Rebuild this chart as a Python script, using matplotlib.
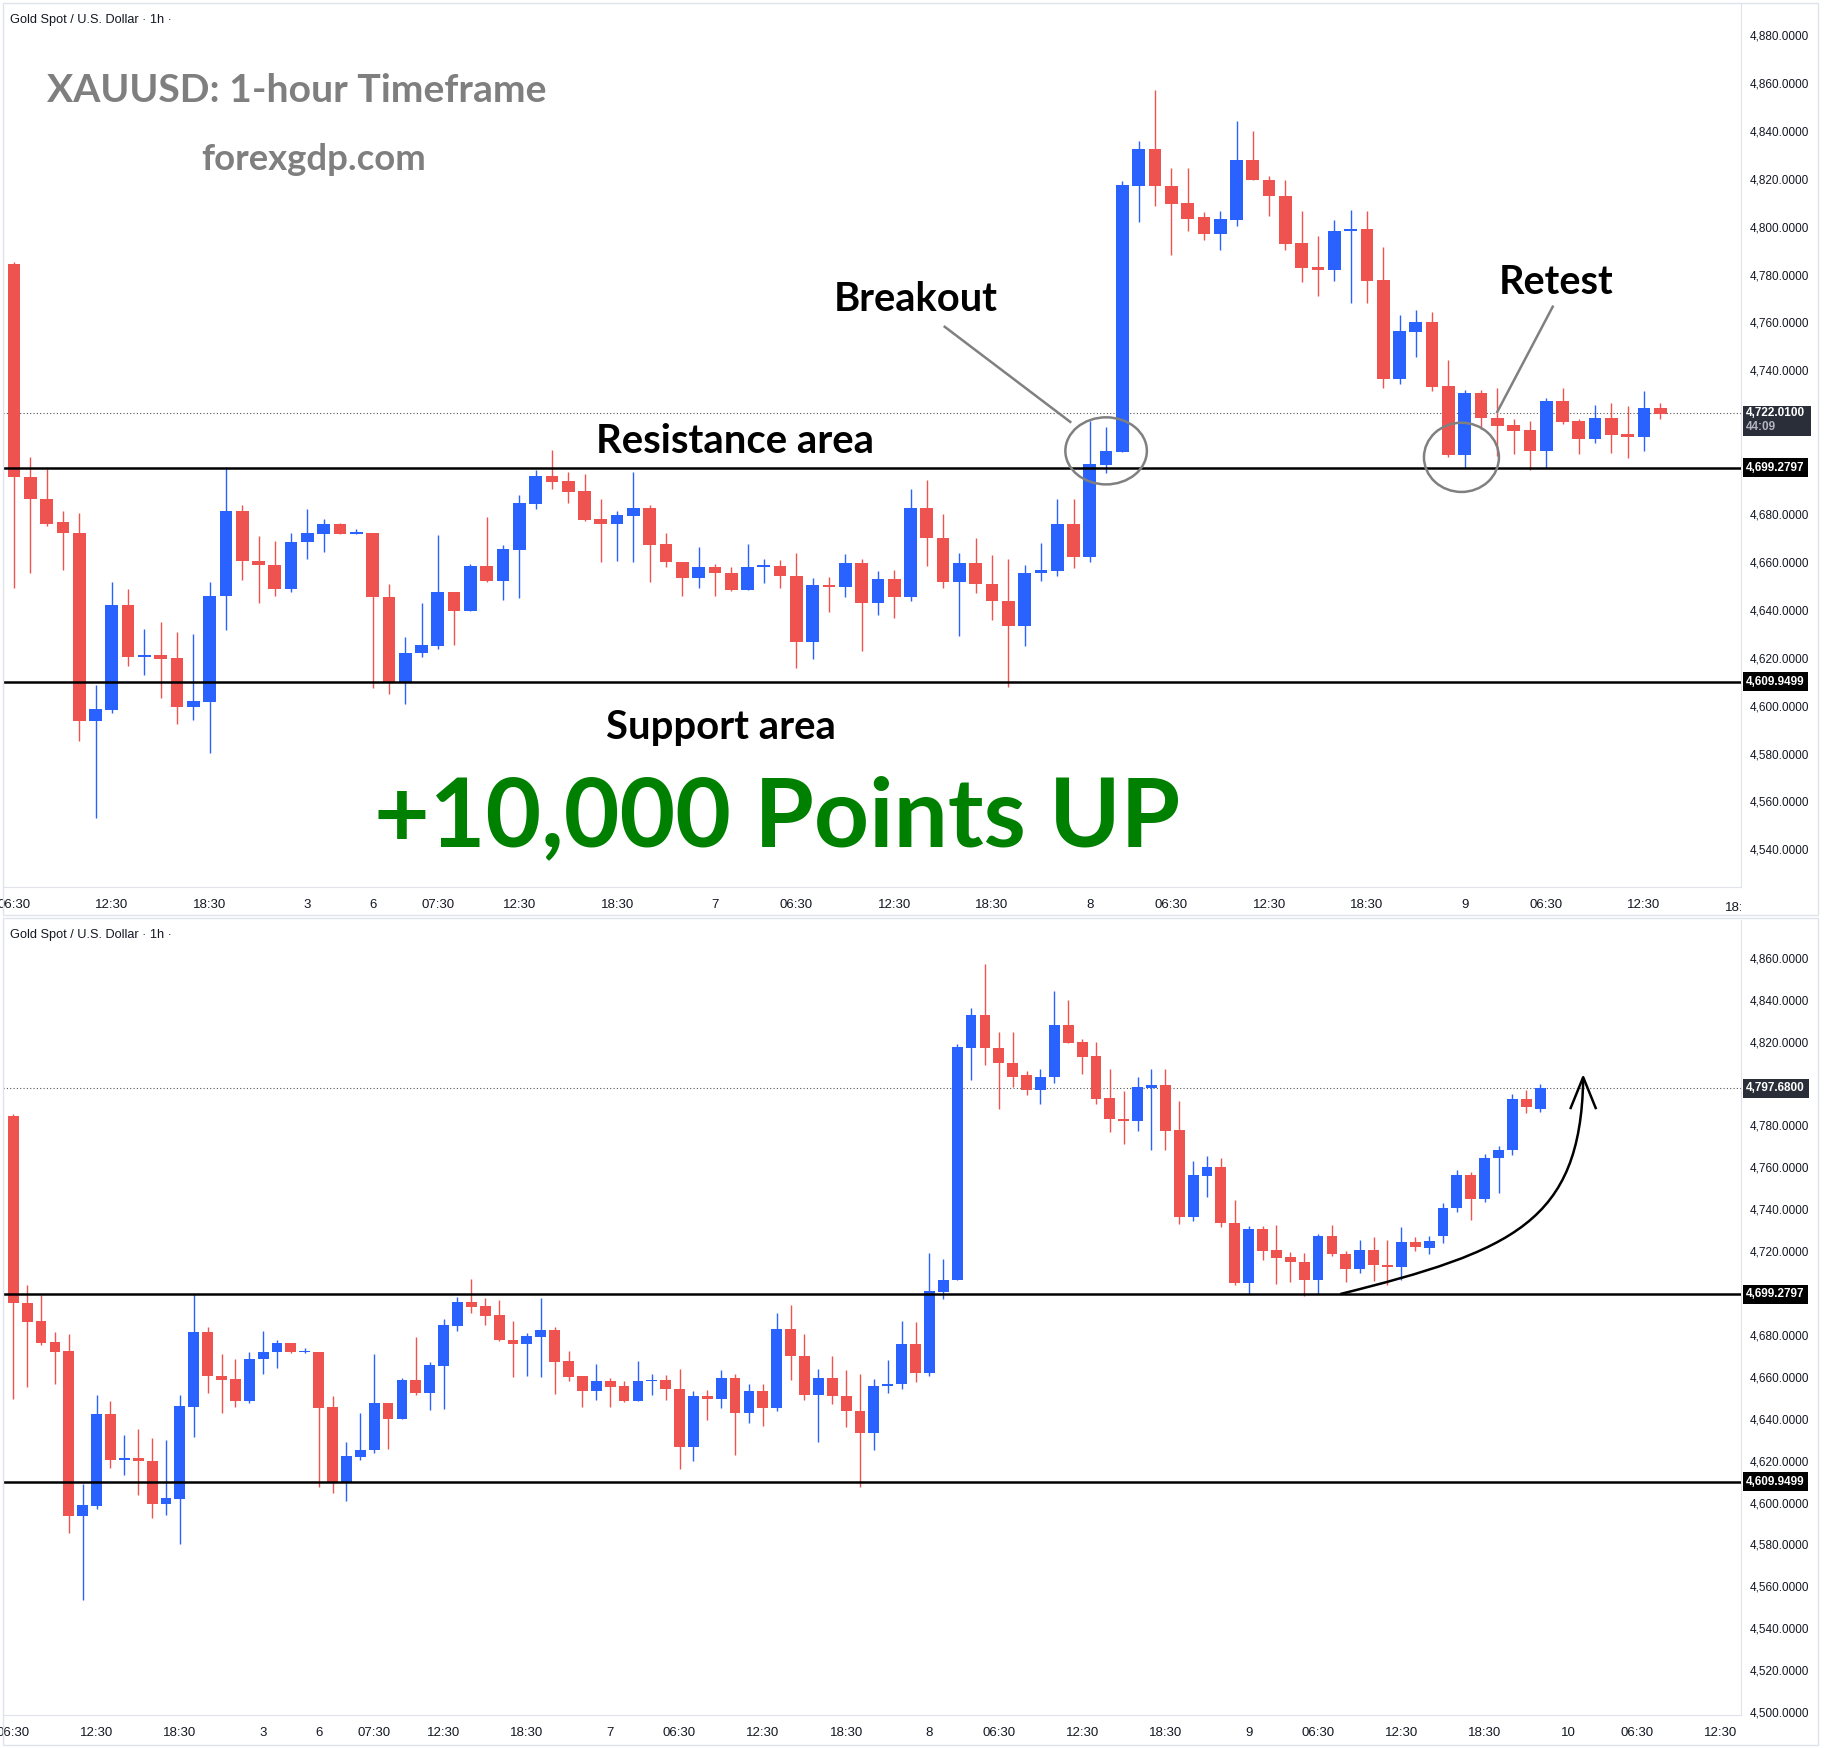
import numpy as np
import matplotlib.pyplot as plt
from matplotlib.patches import Ellipse, Rectangle, PathPatch
from matplotlib.path import Path
from matplotlib.transforms import Bbox, TransformedBbox

# ---- OHLC data (1h candles, XAUUSD) ----
opens = [4784.3, 4695.3, 4686.4, 4676.5, 4672.3, 4593.7, 4598.2, 4642.2, 4620.5, 4621.3,
         4619.9, 4599.5, 4601.6, 4645.7, 4681.2, 4660.6, 4658.9, 4648.6, 4668.5, 4671.7,
         4676.0, 4671.7, 4671.9, 4645.5, 4609.5, 4621.8, 4625.0, 4647.6, 4639.7, 4658.5,
         4652.2, 4665.2, 4684.1, 4695.8, 4693.7, 4689.5, 4677.8, 4675.8, 4679.2, 4682.5,
         4667.6, 4660.2, 4653.2, 4658.1, 4655.6, 4648.5, 4657.9, 4658.5, 4654.3, 4626.4,
         4650.6, 4649.5, 4659.6, 4642.7, 4653.0, 4645.3, 4682.7, 4670.1, 4651.5, 4659.6,
         4650.8, 4643.9, 4633.1, 4655.4, 4656.4, 4675.7, 4662.0, 4700.4, 4706.0, 4817.1,
         4832.6, 4817.1, 4809.9, 4803.9, 4797.0, 4802.9, 4827.7, 4819.6, 4813.0, 4793.1,
         4783.1, 4782.0, 4798.0, 4799.1, 4777.8, 4736.2, 4756.0, 4760.2, 4733.4, 4704.6,
         4730.4, 4720.3, 4717.1, 4715.0, 4706.4, 4727.2, 4718.8, 4711.3, 4720.3, 4713.4,
         4712.3, 4724.1, 4721.7, 4727.2, 4740.6, 4756.1, 4745.0, 4764.4, 4768.3, 4792.8,
         4787.8]
highs = [4785.4, 4703.8, 4699.0, 4681.5, 4680.4, 4608.7, 4651.5, 4648.6, 4632.2, 4635.0,
         4630.6, 4630.0, 4651.5, 4699.6, 4684.0, 4670.7, 4668.6, 4671.9, 4682.0, 4677.8,
         4676.3, 4673.6, 4672.0, 4651.0, 4628.7, 4642.7, 4671.1, 4647.6, 4659.2, 4678.8,
         4666.9, 4687.8, 4698.3, 4706.7, 4697.6, 4696.6, 4686.4, 4681.1, 4697.6, 4683.6,
         4672.3, 4660.2, 4666.1, 4659.2, 4657.8, 4667.6, 4661.4, 4660.9, 4663.8, 4653.4,
         4653.9, 4663.4, 4661.3, 4656.4, 4656.7, 4690.6, 4694.1, 4680.2, 4663.8, 4670.1,
         4663.1, 4661.3, 4658.9, 4668.1, 4686.4, 4686.2, 4719.0, 4716.4, 4818.9, 4835.9,
         4856.9, 4824.5, 4824.5, 4806.0, 4806.7, 4844.0, 4839.8, 4821.3, 4819.6, 4806.7,
         4796.2, 4802.9, 4807.1, 4806.7, 4791.7, 4763.1, 4765.2, 4764.4, 4744.3, 4731.8,
         4732.0, 4732.5, 4719.5, 4718.9, 4728.3, 4732.5, 4719.9, 4725.5, 4726.5, 4725.1,
         4731.4, 4726.5, 4727.0, 4743.0, 4758.5, 4757.5, 4766.5, 4770.0, 4795.0, 4796.7,
         4799.5]
lows = [4649.2, 4655.3, 4675.2, 4656.8, 4585.4, 4553.3, 4597.1, 4616.4, 4613.0, 4603.4,
        4592.5, 4594.1, 4580.3, 4631.4, 4652.3, 4642.7, 4645.7, 4647.3, 4661.1, 4664.0,
        4671.5, 4671.5, 4607.5, 4604.7, 4600.6, 4620.4, 4623.6, 4625.4, 4639.7, 4651.5,
        4644.3, 4644.8, 4682.0, 4690.3, 4684.6, 4677.0, 4659.9, 4660.3, 4659.9, 4651.8,
        4657.8, 4645.7, 4649.0, 4645.7, 4648.0, 4648.5, 4651.1, 4649.0, 4615.9, 4619.7,
        4639.3, 4645.3, 4622.9, 4637.9, 4636.5, 4643.9, 4658.5, 4649.0, 4628.9, 4646.9,
        4635.9, 4607.6, 4625.0, 4652.2, 4654.3, 4657.4, 4660.2, 4697.2, 4706.0, 4801.8,
        4808.7, 4788.0, 4798.3, 4794.5, 4790.3, 4800.4, 4819.3, 4804.6, 4790.3, 4776.7,
        4771.1, 4777.4, 4768.3, 4768.3, 4732.7, 4734.3, 4745.7, 4731.5, 4703.9, 4699.3,
        4715.7, 4704.2, 4705.3, 4698.6, 4699.3, 4717.8, 4705.3, 4709.5, 4705.7, 4703.6,
        4706.3, 4719.9, 4718.5, 4724.0, 4738.5, 4735.0, 4743.5, 4747.8, 4766.0, 4786.0,
        4786.5]
closes = [4695.3, 4686.3, 4676.0, 4671.9, 4593.7, 4598.6, 4642.2, 4620.5, 4621.3, 4619.7,
          4599.5, 4602.1, 4645.9, 4681.2, 4660.3, 4658.7, 4648.6, 4668.5, 4671.9, 4676.0,
          4671.7, 4671.9, 4645.2, 4609.5, 4622.0, 4625.3, 4647.6, 4639.7, 4658.5, 4652.2,
          4665.6, 4684.6, 4695.8, 4693.4, 4689.2, 4677.4, 4675.8, 4679.5, 4682.5, 4667.3,
          4659.9, 4653.2, 4658.1, 4655.3, 4648.5, 4658.1, 4658.5, 4654.1, 4626.4, 4650.6,
          4649.5, 4659.6, 4642.7, 4653.0, 4645.3, 4682.7, 4670.1, 4651.5, 4659.6, 4650.8,
          4643.6, 4633.1, 4655.4, 4656.7, 4675.7, 4662.0, 4700.8, 4706.2, 4817.5, 4832.6,
          4816.8, 4809.6, 4803.3, 4797.0, 4803.3, 4827.7, 4819.3, 4812.7, 4792.8, 4782.9,
          4782.0, 4798.3, 4799.2, 4777.4, 4736.2, 4756.5, 4760.2, 4733.2, 4704.6, 4730.4,
          4720.2, 4716.8, 4714.8, 4706.4, 4727.2, 4718.5, 4711.3, 4720.3, 4713.2, 4712.3,
          4724.1, 4722.0, 4725.0, 4740.6, 4756.1, 4745.0, 4764.4, 4768.3, 4792.8, 4788.9,
          4797.68]

top_count = 102          # candles shown in the upper chart
resistance = 4699.2797
support = 4609.9499
top_last = 4722.01
bot_last = 4797.68

top_xticks = [0, 6, 12, 18, 22, 26, 31, 37, 43, 48, 54, 60, 66, 71, 77, 83, 89, 94, 100]
top_xlabels = ['06:30', '12:30', '18:30', '3', '6', '07:30', '12:30', '18:30', '7', '06:30',
               '12:30', '18:30', '8', '06:30', '12:30', '18:30', '9', '06:30', '12:30']
bot_xticks = [0, 6, 12, 18, 22, 26, 31, 37, 43, 48, 54, 60, 66, 71, 77, 83, 89, 94, 100,
              106, 112, 117, 123]
bot_xlabels = ['06:30', '12:30', '18:30', '3', '6', '07:30', '12:30', '18:30', '7', '06:30',
               '12:30', '18:30', '8', '06:30', '12:30', '18:30', '9', '06:30', '12:30',
               '18:30', '10', '06:30', '12:30']
top_yticks = [4540, 4560, 4580, 4600, 4620, 4640, 4660, 4680, 4740, 4760, 4780, 4800,
              4820, 4840, 4860, 4880]
bot_yticks = [4500, 4520, 4540, 4560, 4580, 4600, 4620, 4640, 4660, 4680, 4720, 4740,
              4760, 4780, 4800, 4820, 4840, 4860]

RED = '#ef5350'
BLUE = '#2962ff'
LINE_GRAY = '#e0e3eb'
TXT = '#131722'
TAG_DARK = '#2a2e39'
ANN = ['Lato', 'DejaVu Sans']
AXF = ['Liberation Sans', 'DejaVu Sans']
AXF_X = ['Liberation Sans Narrow', 'Liberation Sans', 'DejaVu Sans']

W, H = 1825, 1748
fig = plt.figure(figsize=(W / 100, H / 100), dpi=100)


def add_ax(x0, y0, x1, y1):
    return fig.add_axes([x0 / W, 1 - y1 / H, (x1 - x0) / W, (y1 - y0) / H])


def draw_candles(ax, n):
    o = np.array(opens[:n])
    h = np.array(highs[:n])
    l = np.array(lows[:n])
    c = np.array(closes[:n])
    idx = np.arange(n)
    colors = np.where(c >= o, BLUE, RED)
    ax.vlines(idx, l, h, colors=colors, lw=1.0, zorder=2)
    body = np.maximum(np.abs(c - o), 0.8)
    ax.bar(idx, body, bottom=np.minimum(o, c), width=0.78, color=colors, lw=0, zorder=3)


def style_axis(ax, xlim, ylim, xticks, xlabels, yticks):
    ax.set_xlim(*xlim)
    ax.set_ylim(*ylim)
    ax.yaxis.tick_right()
    ax.set_yticks(yticks)
    ax.set_yticklabels([f'{v:,.4f}' for v in yticks], fontsize=8.5, color=TXT, family=AXF)
    ax.set_xticks(xticks)
    ax.set_xticklabels(xlabels, fontsize=9.5, color=TXT, family=AXF_X)
    ax.tick_params(axis='y', length=0, pad=6)
    ax.tick_params(axis='x', length=0, pad=9)
    ax.spines['top'].set_visible(False)
    ax.spines['left'].set_visible(False)
    ax.spines['right'].set_color(LINE_GRAY)
    ax.spines['bottom'].set_color(LINE_GRAY)
    ax.axhline(resistance, color='black', lw=1.8, zorder=4)
    ax.axhline(support, color='black', lw=1.8, zorder=4)


def price_tag(ax, price, label, fc):
    ax.text(1.003, price, label, transform=ax.get_yaxis_transform(), ha='left', va='center',
            color='white', fontsize=8.5, fontweight='bold', family=AXF, clip_on=False,
            bbox=dict(boxstyle='square,pad=0.3', fc=fc, ec='none'), zorder=10)


# ---------------- upper chart ----------------
ax1 = add_ax(3, 3, 1741, 887)
draw_candles(ax1, top_count)
style_axis(ax1, (-0.675, 105.95), (4524.3, 4893.4), top_xticks, top_xlabels, top_yticks)
ax1.axhline(top_last, color='#555555', lw=0.8, ls=(0, (1, 2)), zorder=1)

# cut-off "18:30" label at the right edge
t = ax1.text(106, -0.017, '18:30', transform=ax1.get_xaxis_transform(), ha='center', va='top',
             fontsize=9.5, color=TXT, family=AXF_X, clip_on=True)
t.set_clip_box(TransformedBbox(Bbox([[0, 0], [1741 / W, 1]]), fig.transFigure))

price_tag(ax1, resistance, '4,699.2797', 'black')
price_tag(ax1, support, '4,609.9499', 'black')
ax1.add_patch(Rectangle((1.001, top_last - 9.2), 0.039, 12.5, transform=ax1.get_yaxis_transform(),
                        fc=TAG_DARK, ec='none', clip_on=False, zorder=9))
ax1.text(1.003, top_last, '4,722.0100', transform=ax1.get_yaxis_transform(), ha='left',
         va='center', color='white', fontsize=8.5, fontweight='bold', family=AXF,
         clip_on=False, zorder=10)
ax1.text(1.003, top_last - 5.6, '44:09', transform=ax1.get_yaxis_transform(), ha='left',
         va='center', color='#b2b5be', fontsize=8.5, fontweight='bold', family=AXF,
         clip_on=False, zorder=10)

ax1.text(0.004, 0.981, 'Gold Spot / U.S. Dollar · 1h ·', transform=ax1.transAxes,
         fontsize=9.2, color=TXT, family=AXF, va='center')

# annotations
ax1.text(2.0, 4856.9, 'XAUUSD: 1-hour Timeframe', color='#7f7f7f', fontsize=28.2,
         fontweight='bold', family=ANN, va='center')
ax1.text(11.5, 4828.0, 'forexgdp.com', color='#7f7f7f', fontsize=26.3,
         fontweight='bold', family=ANN, va='center')
ax1.text(50.3, 4769.6, 'Breakout', color='black', fontsize=28.7, fontweight='bold',
         family=ANN, va='center')
ax1.text(35.7, 4710.5, 'Resistance area', color='black', fontsize=28.8, fontweight='bold',
         family=ANN, va='center')
ax1.text(36.3, 4590.9, 'Support area', color='black', fontsize=28.8, fontweight='bold',
         family=ANN, va='center')
ax1.text(91.1, 4776.7, 'Retest', color='black', fontsize=28.5, fontweight='bold',
         family=ANN, va='center')
ax1.text(22.1, 4552.8, '+10,000 Points UP', color='#008000', fontsize=69.2, fontweight='bold',
         family=ANN, va='center')

ax1.plot([57.1, 64.8], [4758.2, 4718.5], color='#808080', lw=1.8, zorder=6)
ax1.plot([94.4, 91.0], [4766.6, 4722.7], color='#808080', lw=1.8, zorder=6)
ax1.add_patch(Ellipse((67.0, 4706.4), 5.0, 28.0, fill=False, ec='#808080', lw=1.8, zorder=6))
ax1.add_patch(Ellipse((88.8, 4703.7), 4.6, 28.9, fill=False, ec='#808080', lw=1.8, zorder=6))

# ---------------- lower chart ----------------
ax2 = add_ax(3, 920, 1741, 1715)
draw_candles(ax2, len(opens))
style_axis(ax2, (-0.742, 124.47), (4498.6, 4878.0), bot_xticks, bot_xlabels, bot_yticks)
ax2.axhline(bot_last, color='#555555', lw=0.8, ls=(0, (1, 2)), zorder=1)
price_tag(ax2, resistance, '4,699.2797', 'black')
price_tag(ax2, support, '4,609.9499', 'black')
price_tag(ax2, bot_last, '4,797.6800', TAG_DARK)
ax2.text(0.004, 0.981, 'Gold Spot / U.S. Dollar · 1h ·', transform=ax2.transAxes,
         fontsize=9.2, color=TXT, family=AXF, va='center')

# curved arrow
verts = [(95.6, 4699.5), (108.0, 4720.0), (112.9, 4733.9), (113.1, 4801.7)]
codes = [Path.MOVETO, Path.CURVE4, Path.CURVE4, Path.CURVE4]
ax2.add_patch(PathPatch(Path(verts, codes), fill=False, ec='black', lw=1.8, zorder=6))
ax2.plot([112.2, 113.1, 114.0], [4788.3, 4803.0, 4788.3], color='black', lw=1.8, zorder=6)

# panel frames
for y0, y1 in [(3, 915), (918, 1745)]:
    fig.add_artist(Rectangle((3 / W, 1 - y1 / H), (1818 - 3) / W, (y1 - y0) / H,
                             transform=fig.transFigure, fill=False, ec=LINE_GRAY, lw=1))

fig.savefig('out.png', dpi=100, facecolor='white')
